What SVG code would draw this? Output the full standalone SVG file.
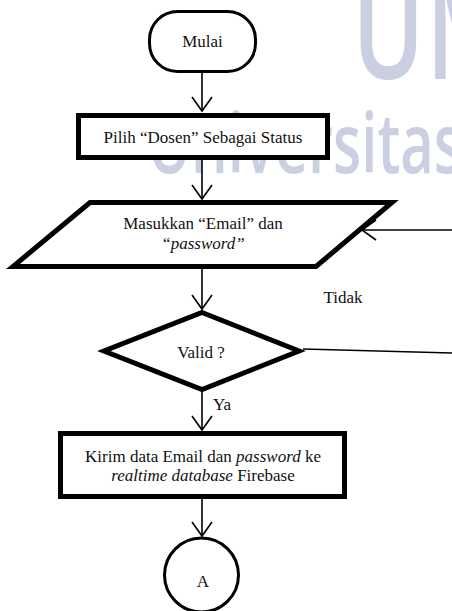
<svg xmlns="http://www.w3.org/2000/svg" width="452" height="611" viewBox="0 0 452 611">
<style>
.wm{fill:#cbcfe2;font-family:"Open Sans","DejaVu Sans",sans-serif;font-weight:600}
.t{font-family:"Liberation Serif","Times New Roman",serif;font-size:17px;fill:#111;text-anchor:middle}
.thick{fill:#fff;stroke:#000;stroke-width:5;stroke-linejoin:miter}
.thin{fill:#fff;stroke:#000;stroke-width:3}
.ln{fill:none;stroke:#000;stroke-width:1.6}
</style>
<defs>
<marker id="ah" markerWidth="20" markerHeight="24" refX="15" refY="11" orient="auto" markerUnits="userSpaceOnUse">
<path d="M1,1 L15,11 L1,21" fill="none" stroke="#000" stroke-width="1.6"/>
</marker>
</defs>
<rect width="452" height="611" fill="#fff"/>
<g id="watermark">
<text class="wm" transform="translate(352,79) scale(0.7,1)" font-size="140" font-weight="700">U</text>
<text class="wm" transform="translate(426,79) scale(0.7,1)" font-size="140" font-weight="700">M</text>
<text class="wm" x="148" y="173" font-size="84" textLength="314" lengthAdjust="spacingAndGlyphs">Universitas</text>
</g>
<g id="connectors">
<line class="ln" x1="202" y1="73" x2="202" y2="111" marker-end="url(#ah)"/>
<line class="ln" x1="202" y1="159" x2="202" y2="199" marker-end="url(#ah)"/>
<line class="ln" x1="202" y1="269" x2="202" y2="309" marker-end="url(#ah)"/>
<line class="ln" x1="202" y1="392" x2="202" y2="430" marker-end="url(#ah)"/>
<line class="ln" x1="202" y1="499" x2="202" y2="536" marker-end="url(#ah)"/>
<line class="ln" x1="303" y1="349" x2="452" y2="353"/>
<line class="ln" x1="452" y1="230" x2="362" y2="230" marker-end="url(#ah)"/>
<text class="t" x="343" y="303">Tidak</text>
<text class="t" x="222" y="410">Ya</text>
</g>
<g id="start">
<rect class="thin" x="149.5" y="11.5" width="106" height="60" rx="28" ry="28"/>
<text class="t" x="202.5" y="47">Mulai</text>
</g>
<g id="pilih">
<rect class="thick" x="78.5" y="115.5" width="249" height="42"/>
<text class="t" x="203" y="143">Pilih “Dosen” Sebagai Status</text>
</g>
<g id="input">
<polygon class="thick" points="90,202.5 392,202.5 316,266.5 13,266.5"/>
<text class="t" x="203" y="229">Masukkan “Email” dan</text>
<text class="t" x="203" y="249" font-style="italic">“password”</text>
</g>
<g id="valid">
<polygon class="thick" points="202,312.5 299,351 202,389.5 104,351"/>
<text class="t" x="201" y="358">Valid ?</text>
</g>
<g id="kirim">
<rect class="thick" x="60.5" y="433.5" width="284" height="63"/>
<text class="t" x="203" y="462">Kirim data Email dan <tspan font-style="italic">password</tspan> ke</text>
<text class="t" x="203" y="481"><tspan font-style="italic">realtime database</tspan> Firebase</text>
</g>
<g id="connectorA">
<circle class="thin" cx="201.5" cy="575" r="37"/>
<text class="t" x="203" y="587" font-size="25">A</text>
</g>
</svg>
